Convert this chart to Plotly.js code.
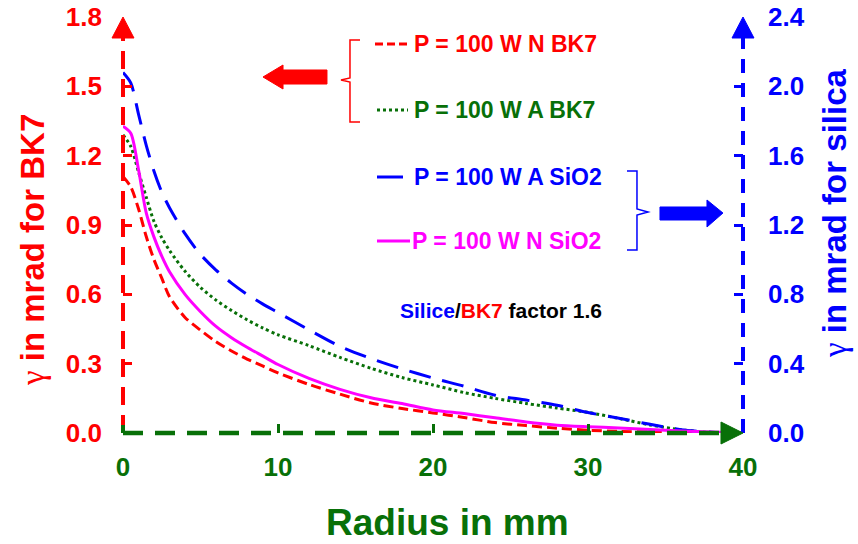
<!DOCTYPE html>
<html>
<head>
<meta charset="utf-8">
<script src="https://cdn.plot.ly/plotly-3.0.1.min.js"></script>
<style>html,body{margin:0;padding:0;background:#fff;}#chart{width:858px;height:544px;}</style>
</head>
<body>
<div id="chart"></div>
<script>
// ---- data ----
const radius = [0, 0.5, 1, 1.5, 2, 2.5, 3, 4, 5, 6, 7, 8, 9, 10, 12, 14, 16, 18, 20, 22, 24, 26, 28, 30, 32, 34, 36, 38, 40];
// BK7 curves, left axis (mrad)
const nBK7 = [1.11, 1.065, 0.97, 0.85, 0.75, 0.67, 0.59, 0.50, 0.445, 0.395, 0.355, 0.32, 0.29, 0.26, 0.21, 0.168, 0.13, 0.106, 0.087, 0.067, 0.045, 0.032, 0.021, 0.012, 0.007, 0.004, 0.002, 0.001, 0];
const aBK7 = [1.29, 1.24, 1.13, 1.02, 0.915, 0.845, 0.79, 0.70, 0.63, 0.575, 0.53, 0.49, 0.455, 0.425, 0.378, 0.327, 0.28, 0.24, 0.208, 0.175, 0.15, 0.128, 0.108, 0.089, 0.063, 0.035, 0.014, 0.002, 0];
// SiO2 curves, right axis (mrad)
const aSiO2 = [2.08, 2.02, 1.84, 1.66, 1.51, 1.39, 1.30, 1.15, 1.03, 0.94, 0.865, 0.80, 0.745, 0.695, 0.595, 0.50, 0.43, 0.37, 0.317, 0.27, 0.218, 0.19, 0.16, 0.118, 0.085, 0.05, 0.019, 0.005, 0];
const nSiO2 = [1.77, 1.73, 1.52, 1.27, 1.13, 1.02, 0.93, 0.80, 0.70, 0.615, 0.55, 0.495, 0.445, 0.395, 0.315, 0.252, 0.203, 0.170, 0.133, 0.112, 0.088, 0.063, 0.045, 0.036, 0.029, 0.02, 0.012, 0.006, 0];

const xTicks = [0, 10, 20, 30, 40];
const leftTicks = [0, 0.3, 0.6, 0.9, 1.2, 1.5, 1.8];
const rightTicks = [0, 0.4, 0.8, 1.2, 1.6, 2.0, 2.4];

const legendLabels = ['P = 100 W N BK7', 'P = 100 W A BK7', 'P = 100 W A SiO2', 'P = 100 W N SiO2'];

// ---- styling ----
const RED = '#ff0000', GREEN = '#087008', BLUE = '#0000ff', MAG = '#ff00ff';
const FAM = '"Liberation Sans", Arial, sans-serif';

// pixel -> paper helpers for decorations
const L = 123, T = 17, W = 620, H = 416;
const px = x => (x - L) / W;
const py = y => (T + H - y) / H;
function path(pts, close) {
  return 'M ' + pts.map(p => px(p[0]).toFixed(4) + ' ' + py(p[1]).toFixed(4)).join(' L ') + (close ? ' Z' : '');
}

const traces = [
  {x: radius, y: nBK7, mode: 'lines', line: {color: RED, width: 3, dash: '10px,5px', shape: 'spline', smoothing: 0.8}, yaxis: 'y', name: legendLabels[0]},
  {x: radius, y: aBK7, mode: 'lines', line: {color: GREEN, width: 3, dash: 'dot', shape: 'spline', smoothing: 0.8}, yaxis: 'y', name: legendLabels[1]},
  {x: radius, y: aSiO2, mode: 'lines', line: {color: BLUE, width: 3, dash: '22px,12px', shape: 'spline', smoothing: 0.8}, yaxis: 'y2', name: legendLabels[2]},
  {x: radius, y: nSiO2, mode: 'lines', line: {color: MAG, width: 3, shape: 'spline', smoothing: 0.8}, yaxis: 'y2', name: legendLabels[3]}
];

function line(x0, y0, x1, y1, color, width, dash) {
  return {type: 'line', xref: 'paper', yref: 'paper', x0: px(x0), y0: py(y0), x1: px(x1), y1: py(y1),
          line: {color: color, width: width, dash: dash || 'solid'}};
}
function poly(pts, color) {
  return {type: 'path', xref: 'paper', yref: 'paper', path: path(pts, true), fillcolor: color, line: {color: color, width: 1}};
}
function open(pts, color, width) {
  return {type: 'path', xref: 'paper', yref: 'paper', path: path(pts, false), line: {color: color, width: width}};
}

const shapes = [
  // axes lines
  line(123, 433, 123, 22, RED, 4, '18px,10px'),
  line(743, 433, 743, 22, BLUE, 4, '14px,10px'),
  line(123, 433, 724, 433, GREEN, 4.5, '20px,12px'),
  line(123, 425, 123, 433, GREEN, 4),
  // arrow heads
  poly([[123, 17], [134, 38], [112, 38]], RED),
  poly([[743, 17], [754, 38], [732, 38]], BLUE),
  poly([[743, 433], [721, 422], [721, 444]], GREEN),
  // legend samples
  line(375, 44, 410, 44, RED, 3, '8px,4px'),
  line(377, 110, 408, 110, GREEN, 3, 'dot'),
  line(377, 177, 403, 177, BLUE, 3),
  line(377, 241, 410, 241, MAG, 3),
  // brackets
  open([[360, 40], [350, 40], [350, 78], [341, 80], [350, 82], [350, 122], [360, 122]], RED, 1.5),
  open([[627, 171], [637, 171], [637, 209], [648, 212], [637, 215], [637, 250], [627, 250]], BLUE, 1.5),
  // block arrows
  poly([[263, 77], [283, 65], [283, 70], [327, 70], [327, 84], [283, 84], [283, 89]], RED),
  poly([[723, 213], [707, 200], [707, 207], [660, 207], [660, 220], [707, 220], [707, 227]], BLUE)
];

const gam = '<span style="font-family:\'Liberation Serif\',serif;font-weight:normal">γ</span>';
function ann(x, y, text, color, size, opts) {
  return Object.assign({xref: 'paper', yref: 'paper', x: px(x), y: py(y), text: text, showarrow: false,
    font: {family: FAM, size: size, color: color, weight: 'bold'}, xanchor: 'center', yanchor: 'middle'}, opts || {});
}
const annotations = [
  ann(447, 522, 'Radius in mm', GREEN, 37),
  ann(32, 250, gam + ' in mrad for BK7', RED, 33, {textangle: -90}),
  ann(834, 214, gam + ' in mrad for silica', BLUE, 33, {textangle: -90}),
  ann(412, 44, legendLabels[0], RED, 23, {xanchor: 'left'}),
  ann(412, 110, legendLabels[1], GREEN, 23, {xanchor: 'left'}),
  ann(412, 177, legendLabels[2], BLUE, 23, {xanchor: 'left'}),
  ann(410, 241, legendLabels[3], MAG, 23, {xanchor: 'left'}),
  ann(501, 310, '<span style="color:#0000ff">Silice</span>/<span style="color:#ff0000">BK7</span> factor 1.6', '#000000', 21)
];

const layout = {
  width: 858, height: 544,
  margin: {l: L, r: 858 - L - W, t: T, b: 544 - T - H, pad: 0},
  paper_bgcolor: '#ffffff', plot_bgcolor: '#ffffff',
  showlegend: false,
  xaxis: {range: [0, 40], tickvals: xTicks, ticks: 'inside', ticklen: 9, tickwidth: 3, tickcolor: GREEN,
          showgrid: false, zeroline: false, showline: false, ticklabelstandoff: 16,
          tickfont: {family: FAM, size: 26, color: GREEN, weight: 'bold'}},
  yaxis: {range: [0, 1.8], tickvals: leftTicks, tickformat: '.1f', ticks: 'inside', ticklen: 9, tickwidth: 3, tickcolor: RED,
          showgrid: false, zeroline: false, showline: false, ticklabelstandoff: 20,
          tickfont: {family: FAM, size: 26, color: RED, weight: 'bold'}},
  yaxis2: {range: [0, 2.4], tickvals: rightTicks, tickformat: '.1f', overlaying: 'y', side: 'right', ticks: 'inside', ticklen: 9, tickwidth: 3, tickcolor: BLUE,
          showgrid: false, zeroline: false, showline: false, ticklabelstandoff: 24,
          tickfont: {family: FAM, size: 26, color: BLUE, weight: 'bold'}},
  shapes: shapes,
  annotations: annotations
};

Plotly.newPlot('chart', traces, layout, {displayModeBar: false, staticPlot: true});
</script>
</body>
</html>
